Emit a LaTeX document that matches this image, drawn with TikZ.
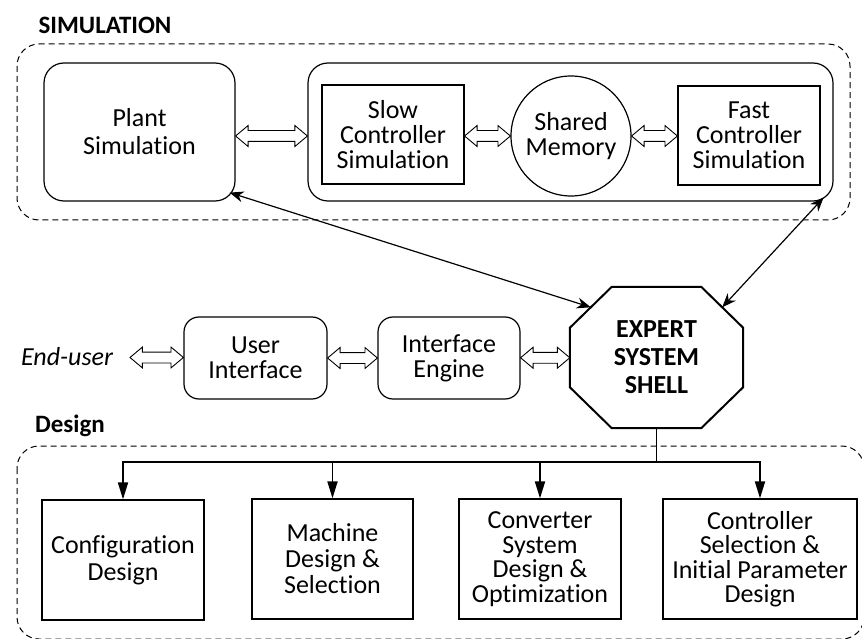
\documentclass[tikz,border=0pt]{standalone}
\usepackage{fontspec}
\setmainfont{Carlito}[Ligatures=NoCommon]
\usetikzlibrary{arrows.meta, shapes.arrows, calc, positioning}

% hollow two-headed arrow between two points
\newcommand{\fatlink}[2]{%
  \path let \p1=(#1), \p2=(#2), \n1={veclen(\x2-\x1,\y2-\y1)} in
    ($(#1)!0.5!(#2)$) node[fat=\n1] {};}

\begin{document}
\begin{tikzpicture}[x=1pt, y=-1pt,
    every node/.style={font=\fontsize{26}{25}\selectfont, align=center, inner sep=0pt},
    fs/.style={font=\fontsize{26}{#1}\selectfont},
    rbox/.style={draw, line width=1.2pt, rounded corners=20pt},
    sbox/.style={draw, line width=1.2pt},
    region/.style={draw, dash pattern=on 6pt off 4pt, line width=1pt, rounded corners=22pt},
    fat/.style={double arrow, draw, fill=white, line width=0.9pt, inner xsep=0pt, inner ysep=5pt,
        double arrow head extend=5pt, double arrow tip angle=80, minimum height=#1},
    link/.style={line width=1.2pt, {Stealth[length=14pt,width=11pt]}-{Stealth[length=14pt,width=11pt]}},
    feed/.style={line width=1.8pt, -{Triangle[length=17pt,width=10pt]}}
]
\useasboundingbox (0,0) rectangle (862,639);

% dashed regions
\draw[region] (17,44) rectangle (850,220);
\draw[region] (17,446) rectangle (864,639);
\node[font=\bfseries\fontsize{25}{25}\selectfont] (simlabel) at (105,25) {SIMULATION};
\node[font=\bfseries\fontsize{25}{25}\selectfont] (designlabel) at (70,426) {Design};

% simulation part
\node[rbox, minimum width=191, minimum height=138, fs=28] (plant) at (139.5,132) {Plant\\Simulation};
\node[rbox, minimum width=525, minimum height=138] (simbox) at (570.5,132) {};
\node[sbox, minimum width=142, minimum height=99] (slow) at (393,134.5) {Slow\\Controller\\Simulation};
\node[draw, circle, line width=1.2pt, minimum size=120] (mem) at (571,136) {Shared\\Memory};
\node[sbox, minimum width=142, minimum height=99] (fast) at (749,135.5) {Fast\\Controller\\Simulation};

\fatlink{plant.east |- mem.center}{simbox.west |- mem.center}
\fatlink{slow.east |- mem.center}{mem.west}
\fatlink{mem.east}{fast.west |- mem.center}

% expert system shell
\node[minimum width=173, minimum height=141, font=\bfseries\fontsize{26}{28}\selectfont] (shell) at (656.5,357.5) {EXPERT\\SYSTEM\\SHELL};
\draw[line width=2pt]
    ($(shell.north west)+(42,0)$) -- ($(shell.north east)+(-42,0)$)
    -- ($(shell.north east)+(0,41)$) -- ($(shell.south east)+(0,-41)$)
    -- ($(shell.south east)+(-42,0)$) -- ($(shell.south west)+(42,0)$)
    -- ($(shell.south west)+(0,-41)$) -- ($(shell.north west)+(0,41)$) -- cycle;
\coordinate (shell-ul) at ($(shell.north west)+(21,20.5)$);
\coordinate (shell-ur) at ($(shell.north east)+(-21,20.5)$);

\draw[link] ($(plant.south east)+(-6,-9)$) -- (shell-ul);
\draw[link] ($(simbox.south east)+(-10,-4)$) -- (shell-ur);

% user side
\node[font=\itshape\fontsize{26}{26}\selectfont, outer xsep=17pt] (enduser) at (67,357) {End-user};
\node[rbox, rounded corners=15pt, minimum width=143, minimum height=82] (user) at (255.5,358) {User\\Interface};
\node[rbox, rounded corners=15pt, minimum width=142, minimum height=82] (engine) at (449,358) {Interface\\Engine};

\fatlink{enduser.east}{user.west}
\fatlink{user.east}{engine.west}
\fatlink{engine.east}{shell.west}

% design part
\node[sbox, minimum width=162, minimum height=120, fs=27] (conf) at (123,560) {Configuration\\Design};
\node[sbox, minimum width=161, minimum height=120, fs=26] (mach) at (332.5,559) {Machine\\Design \&\\Selection};
\node[sbox, minimum width=162, minimum height=120, fs=24.5] (conv) at (540,559) {Converter\\System\\Design \&\\Optimization};
\node[sbox, minimum width=194, minimum height=120, fs=24.5] (ctrl) at (760,559) {Controller\\Selection \&\\Initial Parameter\\Design};

\path (shell.south) ++(0,34) coordinate (bus);
\draw[line width=1.8pt] (shell.south) -- (bus);
\draw[feed] (bus) -| (conf.north);
\draw[feed] (bus) -| (ctrl.north);
\foreach \b in {mach, conv}
    \draw[feed] (\b.north |- bus) -- (\b.north);
\end{tikzpicture}
\end{document}
